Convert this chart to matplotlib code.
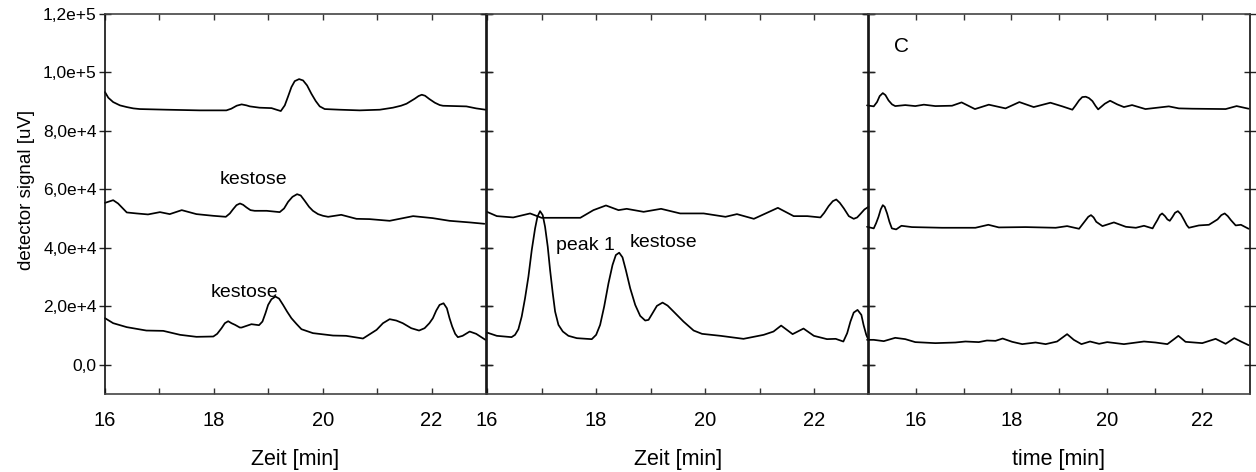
import matplotlib
matplotlib.use("Agg")
import matplotlib.pyplot as plt
from matplotlib.ticker import FixedLocator, NullFormatter

plt.rcParams['font.family'] = ['Liberation Sans', 'DejaVu Sans']

# ---- panel 1: three chromatograms (time in min, signal in uV) ----
p1_top_t = [16.0, 16.061, 16.15, 16.275, 16.40, 16.52, 16.64, 17.13, 17.74, 18.23, 18.32, 18.42,
            18.51, 18.60, 18.66, 18.84, 19.06, 19.15, 19.23, 19.303, 19.364, 19.425, 19.486,
            19.566, 19.639, 19.713, 19.792, 19.872, 19.945, 20.037, 20.31, 20.68, 21.05, 21.29,
            21.44, 21.54, 21.69, 21.76, 21.82, 21.88, 21.96, 22.06, 22.15, 22.21, 22.64, 22.82,
            22.99]
p1_top_s = [93280, 91350, 89870, 88740, 88160, 87710, 87480, 87260, 87030, 87030, 87600, 88630,
            89080, 88740, 88400, 87950, 87800, 87260, 86800, 88740, 91810, 94990, 97040,
            97730, 97270, 95560, 92720, 90210, 88400, 87480, 87260, 87030, 87260, 87950,
            88630, 89310, 91010, 91920, 92380, 92040, 90900, 89650, 88850, 88610, 88390, 87710,
            87260]

p1_mid_t = [16.0, 16.15, 16.24, 16.40, 16.58, 16.79, 17.01, 17.19, 17.41, 17.68, 17.99, 18.22,
            18.294, 18.35, 18.416, 18.48, 18.538, 18.60, 18.673, 18.75, 18.97, 19.21, 19.29,
            19.364, 19.444, 19.529, 19.596, 19.67, 19.749, 19.82, 19.914, 20.006, 20.10, 20.34,
            20.62, 20.86, 21.23, 21.66, 22.02, 22.33, 22.70, 22.97]
p1_mid_s = [55390, 56310, 55180, 52110, 51770, 51430, 52220, 51540, 52900, 51540, 50960, 50620,
            51770, 53140, 54610, 55180, 54720, 53820, 52900, 52670, 52670, 52220, 53470,
            55740, 57450, 58360, 57910, 56080, 54030, 52670, 51540, 50960, 50620, 51300,
            49930, 49830, 49250, 50850, 50170, 49250, 48700, 48230]

p1_low_t = [16.0, 16.15, 16.40, 16.76, 17.07, 17.38, 17.68, 17.99, 18.061, 18.141, 18.202, 18.263,
            18.324, 18.39, 18.477, 18.51, 18.69, 18.83, 18.893, 18.948, 18.997, 19.058, 19.131,
            19.198, 19.272, 19.345, 19.425, 19.517, 19.609, 19.82, 20.19, 20.43, 20.74, 20.99,
            21.107, 21.23, 21.352, 21.47, 21.627, 21.77, 21.872, 21.96, 22.024, 22.086, 22.147,
            22.22, 22.281, 22.33, 22.379, 22.434, 22.483, 22.57, 22.70, 22.82, 22.99]
p1_low_s = [15940, 14230, 12870, 11710, 11600, 10240, 9560, 9670, 10580, 12510, 14220, 14900,
            14220, 13650, 12740, 12740, 13880, 13540, 14790, 17630, 20480, 22410, 23330,
            22640, 20480, 18200, 15930, 13990, 12170, 10820, 10000, 9900, 8980, 11950,
            14220, 15600, 15130, 14230, 12510, 11710, 12510, 14230, 15930, 18540, 20480,
            21040, 19340, 15930, 13080, 10580, 9440, 9900, 11370, 10580, 8530]

# ---- panel 2: two chromatograms ----
p2_top_t = [16.0, 16.18, 16.48, 16.79, 17.00, 17.34, 17.71, 17.95, 18.18, 18.41, 18.56, 18.87,
            19.19, 19.54, 19.97, 20.37, 20.58, 20.89, 21.13, 21.33, 21.62, 21.87, 22.11, 22.18,
            22.26, 22.337, 22.40, 22.465, 22.54, 22.63, 22.72, 22.783, 22.84, 22.917, 22.99]
p2_top_s = [52320, 50850, 50400, 51770, 50280, 50280, 50280, 52900, 54500, 52900, 53350, 52320,
            53350, 51770, 51770, 50620, 51540, 49930, 51980, 53690, 50850, 50850, 50400, 51990,
            54270, 55970, 56550, 55400, 53480, 50850, 49930, 50400, 51540, 53140, 54030]

p2_low_t = [16.0, 16.18, 16.45, 16.514, 16.575, 16.636, 16.697, 16.759, 16.820, 16.881, 16.924,
            16.972, 17.021, 17.064, 17.113, 17.156, 17.205, 17.248, 17.309, 17.389, 17.492,
            17.646, 17.83, 17.92, 18.0, 18.073, 18.147, 18.226, 18.30, 18.361, 18.422, 18.483,
            18.544, 18.624, 18.716, 18.807, 18.899, 18.96, 19.033, 19.113, 19.217, 19.309,
            19.419, 19.60, 19.786, 19.94, 20.28, 20.70, 21.07, 21.25, 21.39, 21.60, 21.80,
            21.99, 22.23, 22.39, 22.53, 22.60, 22.66, 22.72, 22.79, 22.86, 22.90, 22.95, 22.99]
p2_low_s = [11020, 9900, 9450, 10240, 12170, 16500, 22750, 30150, 39250, 46640, 50630,
            52560, 51200, 47210, 40390, 32420, 24460, 18200, 13650, 11380, 9900,
            9100, 8870, 8760, 10240, 13650, 19910, 27870, 34130, 37540, 38340, 36750,
            32420, 26170, 20480, 16720, 15130, 15360, 17630, 20140, 21270, 20250,
            18200, 14790, 11720, 10580, 9900, 8870, 10240, 11370, 13410, 10480, 12390,
            9900, 8770, 8870, 7950, 10810, 14790, 17860, 18770, 17070, 13650, 10240, 8530]

# ---- panel 3: three chromatograms ----
p3_top_t = [14.98, 15.12, 15.189, 15.245, 15.31, 15.365, 15.43, 15.503, 15.57, 15.78, 15.99,
            16.17, 16.41, 16.76, 16.96, 17.24, 17.53, 17.88, 18.17, 18.47, 18.82, 19.07, 19.28,
            19.348, 19.42, 19.487, 19.56, 19.627, 19.70, 19.767, 19.82, 19.96, 20.07, 20.22,
            20.36, 20.53, 20.81, 21.30, 21.51, 21.79, 22.49, 22.72, 22.97]
p3_top_s = [88740, 88400, 89880, 91920, 92940, 92260, 90440, 89080, 88500, 88840, 88500,
            88980, 88500, 88620, 89760, 87480, 88980, 87710, 89870, 88160, 89650, 88400, 87260,
            88740, 90440, 91580, 91700, 91240, 90210, 88510, 87370, 89310, 90330, 89080,
            88160, 88840, 87480, 88400, 87710, 87600, 87480, 88500, 87600]

p3_mid_t = [14.98, 15.12, 15.168, 15.22, 15.266, 15.31, 15.35, 15.40, 15.449, 15.50, 15.59,
            15.70, 15.92, 16.55, 17.25, 17.52, 17.74, 18.30, 18.93, 19.17, 19.42, 19.56, 19.613,
            19.67, 19.725, 19.78, 19.91, 20.15, 20.40, 20.61, 20.78, 20.96, 21.01, 21.06, 21.115,
            21.16, 21.22, 21.27, 21.32, 21.37, 21.43, 21.49, 21.55, 21.62, 21.675, 21.72, 21.93,
            22.14, 22.32, 22.40, 22.47, 22.535, 22.60, 22.70, 22.81, 22.97]
p3_mid_s = [47200, 46650, 48360, 50620, 53140, 54610, 54030, 51770, 48910, 46650, 46310,
            47550, 47100, 46870, 46870, 47890, 46990, 47100, 46870, 47440, 46530, 49490, 50620,
            51200, 50410, 48910, 47440, 48700, 47200, 46870, 47550, 46650, 48120, 49490, 51200,
            51770, 50850, 49730, 49250, 50410, 51990, 52560, 51540, 49490, 47780, 46870, 47670,
            47890, 49730, 51200, 51770, 50850, 49490, 47670, 47890, 46530]

p3_low_t = [14.98, 15.12, 15.33, 15.57, 15.78, 15.99, 16.41, 16.83, 17.04, 17.32, 17.49, 17.67,
            17.82, 18.02, 18.23, 18.51, 18.72, 18.96, 19.17, 19.31, 19.47, 19.65, 19.84, 20.01,
            20.36, 20.78, 21.02, 21.27, 21.41, 21.50, 21.65, 22.00, 22.28, 22.49, 22.67, 22.81,
            22.97]
p3_low_s = [8530, 8530, 8080, 9220, 8770, 7750, 7400, 7620, 7960, 7750, 8300, 8190,
            8980, 7850, 7060, 7620, 7060, 7960, 10480, 8530, 7060, 7960, 7170, 7750,
            7060, 7960, 7620, 7060, 8770, 9900, 7850, 7400, 8870, 7170, 9110, 7960,
            6720]

# ---- axes ticks and labels ----
y_ticks = [0, 20000, 40000, 60000, 80000, 100000, 120000]
y_tick_labels = ['0,0', '2,0e+4', '4,0e+4', '6,0e+4', '8,0e+4', '1,0e+5', '1,2e+5']
x_major = [16, 18, 20, 22]
x_minor = [17, 19, 21]
x_tick_labels = ['16', '18', '20', '22']
x_labels = ['Zeit [min]', 'Zeit [min]', 'time [min]']
y_label = 'detector signal [uV]'

panels = [
    ((16, 23), [(p1_top_t, p1_top_s), (p1_mid_t, p1_mid_s), (p1_low_t, p1_low_s)]),
    ((16, 23), [(p2_top_t, p2_top_s), (p2_low_t, p2_low_s)]),
    ((15, 23), [(p3_top_t, p3_top_s), (p3_mid_t, p3_mid_s), (p3_low_t, p3_low_s)]),
]

W, H = 1256, 472
fig = plt.figure(figsize=(W / 100, H / 100), dpi=100)

boxes = [(105, 486), (487, 869), (868, 1250)]
top_px, bot_px = 14, 394

axes = []
for i, ((xlo, xhi), traces) in enumerate(panels):
    l, r = boxes[i]
    ax = fig.add_axes([l / W, 1 - bot_px / H, (r - l) / W, (bot_px - top_px) / H])
    ax.set_facecolor('none')
    for t, s in traces:
        ax.plot(t, s, color='black', lw=1.25, solid_joinstyle='round',
                solid_capstyle='round', clip_on=False)
    ax.set_xlim(xlo, xhi)
    ax.set_ylim(-10000, 120000)

    ax.xaxis.set_major_locator(FixedLocator(x_major))
    ax.xaxis.set_minor_locator(FixedLocator(x_minor))
    ax.set_xticklabels(x_tick_labels)
    ax.xaxis.set_minor_formatter(NullFormatter())
    ax.tick_params(axis='x', which='both', direction='in', top=True, bottom=True,
                   length=4.5, width=1.0, color='#333333', labelsize=14.5, pad=12)

    ax.set_yticks(y_ticks)
    if i == 0:
        ax.set_yticklabels(y_tick_labels)
        ax.set_ylabel(y_label, fontsize=13.5)
        ax.yaxis.set_label_coords(-0.183, 0.537)
    else:
        ax.set_yticklabels([])
    ax.tick_params(axis='y', which='both', direction='inout', left=True, right=True,
                   length=8, width=1.0, color='#222222', labelsize=12.5, pad=2)

    ax.set_xlabel(x_labels[i], fontsize=15.5, labelpad=14)

    for side in ('top', 'bottom'):
        ax.spines[side].set_color('#444444')
        ax.spines[side].set_linewidth(1.2)
    for side in ('left', 'right'):
        ax.spines[side].set_color('#111111')
        ax.spines[side].set_linewidth(1.2)
    axes.append(ax)

# peak annotations
ax1, ax2, ax3 = axes
ax1.text(18.72, 63480, 'kestose', fontsize=14, ha='center', va='center')
ax1.text(18.57, 24800, 'kestose', fontsize=14, ha='center', va='center')
ax2.text(17.80, 40960, 'peak 1', fontsize=14, ha='center', va='center')
ax2.text(19.24, 41980, 'kestose', fontsize=14, ha='center', va='center')
ax3.text(15.71, 108880, 'C', fontsize=15, ha='center', va='center')

fig.savefig('out.png', dpi=100)
